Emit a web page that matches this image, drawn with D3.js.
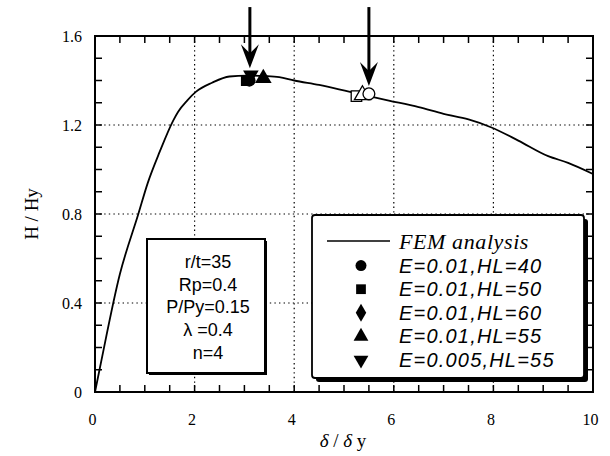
<!DOCTYPE html>
<html>
<head>
<meta charset="utf-8">
<script src="https://cdn.jsdelivr.net/npm/d3@7"></script>
<style>
  html, body { margin: 0; padding: 0; background: #fff; }
  svg { display: block; }
  .tick text { font-family: "Liberation Serif", "Times New Roman", serif; }
</style>
</head>
<body>
<svg id="chart" width="610" height="456"></svg>
<script>
// FEM load-displacement curve (delta/delta_y, H/Hy)
const femX = [0, 0.1, 0.5, 0.87, 1.06, 1.3, 1.57, 1.67, 1.85, 2.03, 2.35, 2.7, 3.05, 3.4, 3.7, 4.0, 4.5, 5.1, 5.5, 5.9, 6.5, 7.0, 7.5, 7.95, 8.5, 9.1, 9.5, 10];
const femY = [0, 0.11, 0.53, 0.8, 0.94, 1.08, 1.22, 1.26, 1.31, 1.35, 1.39, 1.418, 1.422, 1.42, 1.415, 1.40, 1.38, 1.35, 1.33, 1.31, 1.28, 1.25, 1.225, 1.19, 1.13, 1.06, 1.03, 0.98];

// Series markers: peak group (filled) and drop group (open)
const seriesNames = ["E=0.01,HL=40", "E=0.01,HL=50", "E=0.01,HL=60", "E=0.01,HL=55", "E=0.005,HL=55"];
const seriesShapes = ["circle", "square", "diamond", "triangle", "triangleDown"];
const peakX = [3.1, 3.04, 3.08, 3.38, 3.13];
const peakY = [1.40, 1.40, 1.41, 1.41, 1.425];
const openShapes = ["square", "triangle", "circle"];
const openX = [5.25, 5.37, 5.5];
const openY = [1.33, 1.335, 1.34];

// Arrows pointing at both groups
const arrowX = [3.11, 5.5];
const arrowTipY = [1.455, 1.375];
const arrowTopY = 1.73;

const xTicks = [0, 2, 4, 6, 8, 10];
const yTicks = [0, 0.4, 0.8, 1.2, 1.6];
const paramLines = ["r/t=35", "Rp=0.4", "P/Py=0.15", "\u03bb =0.4", "n=4"];

const svg = d3.select("#chart");
const margin = { left: 95, right: 17, top: 36, bottom: 64 };
const W = 610, H = 456;
const x = d3.scaleLinear().domain([0, 10]).range([margin.left, W - margin.right]);
const y = d3.scaleLinear().domain([0, 1.6]).range([H - margin.bottom, margin.top]);

// dotted grid at major ticks
const gridG = svg.append("g").attr("stroke", "#000").attr("stroke-width", 1.2).attr("stroke-dasharray", "1.4,3.2");
gridG.selectAll(".gx").data(xTicks.slice(1, -1)).join("line")
  .attr("x1", d => x(d)).attr("x2", d => x(d)).attr("y1", y(0)).attr("y2", y(1.6));
gridG.selectAll(".gy").data(yTicks.slice(1, -1)).join("line")
  .attr("y1", d => y(d)).attr("y2", d => y(d)).attr("x1", x(0)).attr("x2", x(10));

// inward minor ticks on all four sides
const minorX = d3.range(0, 10.001, 0.5);
const minorY = d3.range(0, 1.6001, 0.1);
const tickLen = 7;
const tg = svg.append("g").attr("stroke", "#000").attr("stroke-width", 1.5);
tg.selectAll("line.tb").data(minorX).join("line").attr("class", "tb")
  .attr("x1", d => x(d)).attr("x2", d => x(d)).attr("y1", y(0)).attr("y2", y(0) - tickLen);
tg.selectAll("line.tt").data(minorX).join("line").attr("class", "tt")
  .attr("x1", d => x(d)).attr("x2", d => x(d)).attr("y1", y(1.6)).attr("y2", y(1.6) + tickLen);
tg.selectAll("line.tl").data(minorY).join("line").attr("class", "tl")
  .attr("y1", d => y(d)).attr("y2", d => y(d)).attr("x1", x(0)).attr("x2", x(0) + tickLen);
tg.selectAll("line.tr").data(minorY).join("line").attr("class", "tr")
  .attr("y1", d => y(d)).attr("y2", d => y(d)).attr("x1", x(10)).attr("x2", x(10) - tickLen);

// tick labels
const xa = svg.append("g").attr("transform", `translate(0,${y(0)})`)
  .call(d3.axisBottom(x).tickValues(xTicks).tickSize(0).tickPadding(22).tickFormat(d3.format("d")));
xa.select(".domain").remove();
xa.selectAll("text").attr("font-size", 16).attr("fill", "#000").attr("dx", -3);
const ya = svg.append("g").attr("transform", `translate(${x(0)},0)`)
  .call(d3.axisLeft(y).tickValues(yTicks).tickSize(0).tickPadding(13).tickFormat(d => d === 0 ? "0" : d3.format(".1f")(d)));
ya.select(".domain").remove();
ya.selectAll("text").attr("font-size", 16).attr("fill", "#000");

// frame
svg.append("rect").attr("x", x(0)).attr("y", y(1.6)).attr("width", x(10) - x(0)).attr("height", y(0) - y(1.6))
  .attr("fill", "none").attr("stroke", "#000").attr("stroke-width", 2);

// FEM curve
const pts = femX.map((v, i) => [v, femY[i]]);
svg.append("path").datum(pts)
  .attr("d", d3.line().x(d => x(d[0])).y(d => y(d[1])).curve(d3.curveMonotoneX))
  .attr("fill", "none").attr("stroke", "#000").attr("stroke-width", 1.8);

// markers
const symType = { circle: d3.symbolCircle, square: d3.symbolSquare, diamond: d3.symbolDiamond, triangle: d3.symbolTriangle, triangleDown: d3.symbolTriangle };
function symPath(shape, size) {
  return d3.symbol().type(symType[shape]).size(size)();
}
function symTransform(shape, px, py) {
  return `translate(${px},${py})` + (shape === "triangleDown" ? " rotate(180)" : "");
}
svg.append("g").selectAll("path").data(seriesShapes).join("path")
  .attr("d", (s, i) => symPath(s, s === "diamond" ? 55 : s === "triangleDown" ? 105 : 120))
  .attr("transform", (s, i) => symTransform(s, x(peakX[i]), y(peakY[i])))
  .attr("fill", "#000");
svg.append("g").selectAll("path").data(openShapes).join("path")
  .attr("d", s => symPath(s, 110))
  .attr("transform", (s, i) => symTransform(s, x(openX[i]), y(openY[i])))
  .attr("fill", "#fff").attr("stroke", "#000").attr("stroke-width", 1.3);

// arrows
const arrowG = svg.append("g");
arrowX.forEach((ax, i) => {
  const px = x(ax), tip = y(arrowTipY[i]), top = y(arrowTopY);
  arrowG.append("line").attr("x1", px).attr("x2", px).attr("y1", top).attr("y2", tip - 12)
    .attr("stroke", "#000").attr("stroke-width", 3);
  arrowG.append("path")
    .attr("d", `M${px},${tip} L${px - 9},${tip - 24} L${px},${tip - 15} L${px + 9},${tip - 24} Z`)
    .attr("fill", "#000");
});

// parameter box
const pb = { x0: 147, y0: 239, x1: 265, y1: 373 };
svg.append("rect").attr("x", pb.x0 + 2).attr("y", pb.y0 + 2).attr("width", pb.x1 - pb.x0).attr("height", pb.y1 - pb.y0)
  .attr("fill", "#000");
svg.append("rect").attr("x", pb.x0).attr("y", pb.y0).attr("width", pb.x1 - pb.x0).attr("height", pb.y1 - pb.y0)
  .attr("fill", "#fff").attr("stroke", "#000").attr("stroke-width", 2);
svg.append("g").selectAll("text").data(paramLines).join("text")
  .attr("x", (pb.x0 + pb.x1) / 2 + 2).attr("y", (d, i) => 268 + i * 22.7)
  .attr("text-anchor", "middle").attr("font-family", "Liberation Sans, Arial, sans-serif")
  .attr("font-size", 18).attr("fill", "#000").text(d => d);

// legend box with drop shadow
const lb = { x0: 312, y0: 215, x1: 584, y1: 378 };
svg.append("rect").attr("x", lb.x0 + 4).attr("y", lb.y0 + 4).attr("width", lb.x1 - lb.x0).attr("height", lb.y1 - lb.y0)
  .attr("rx", 3).attr("fill", "#000");
svg.append("rect").attr("x", lb.x0).attr("y", lb.y0).attr("width", lb.x1 - lb.x0).attr("height", lb.y1 - lb.y0)
  .attr("rx", 3).attr("fill", "#fff").attr("stroke", "#000").attr("stroke-width", 1.8);
const rowY = i => 242 + i * 23.6;
svg.append("line").attr("x1", 327).attr("x2", 390).attr("y1", rowY(0) - 1).attr("y2", rowY(0) - 1)
  .attr("stroke", "#000").attr("stroke-width", 1.5);
svg.append("text").attr("x", 399).attr("y", rowY(0) + 7)
  .attr("font-family", "Liberation Serif, serif").attr("font-style", "italic").attr("font-size", 22)
  .attr("letter-spacing", 0.6).attr("fill", "#000").text("FEM analysis");
const lg = svg.append("g");
lg.selectAll("path").data(seriesShapes).join("path")
  .attr("d", s => symPath(s, 95))
  .attr("transform", (s, i) => symTransform(s, 361, rowY(i + 1)))
  .attr("fill", "#000");
lg.selectAll("text").data(seriesNames).join("text")
  .attr("x", 399).attr("y", (d, i) => rowY(i + 1) + 7)
  .attr("font-family", "Liberation Sans, Arial, sans-serif").attr("font-style", "italic").attr("font-size", 20)
  .attr("letter-spacing", 1.2).attr("fill", "#000").text(d => d);

// axis titles
svg.append("text").attr("x", 343).attr("y", 447).attr("text-anchor", "middle")
  .attr("font-family", "Liberation Serif, serif").attr("font-size", 19).attr("fill", "#000")
  .html('<tspan font-style="italic">\u03b4</tspan> / <tspan font-style="italic">\u03b4</tspan> y');
svg.append("text").attr("transform", "translate(38,214) rotate(-90)").attr("text-anchor", "middle")
  .attr("font-family", "Liberation Serif, serif").attr("font-size", 19).attr("fill", "#000")
  .text("H / Hy");
</script>
</body>
</html>
